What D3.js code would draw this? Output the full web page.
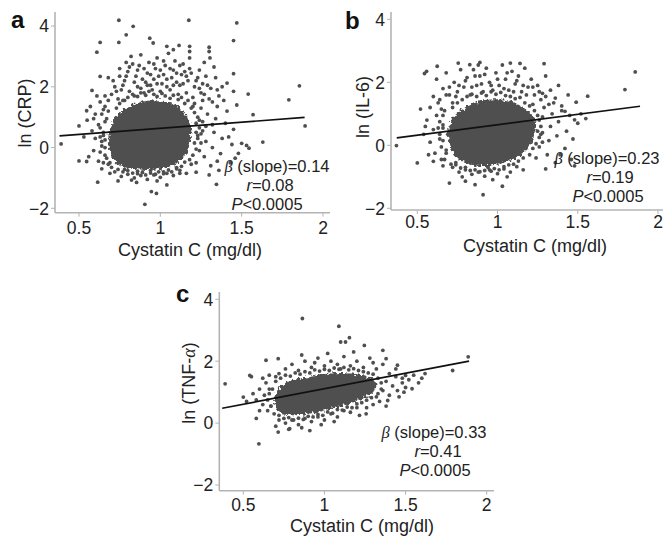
<!DOCTYPE html>
<html lang="en">
<head>
<meta charset="utf-8">
<title>Cystatin C scatter panels</title>
<script src="https://cdn.jsdelivr.net/npm/d3@7"></script>
<style>
  body { margin: 0; background: #fff; }
  svg { font-family: "Liberation Sans", Arial, sans-serif; }
  .axis-line { stroke: #b4b4b4; stroke-width: 1.6; fill: none; }
  .tick-mark { stroke: #b4b4b4; stroke-width: 1; }
  .tick-label { font-size: 17.5px; fill: #222; }
  .ax-title { font-size: 18px; fill: #222; }
  .note { font-size: 16.5px; fill: #222; }
  .panel-tag { font-size: 24px; font-weight: bold; fill: #111; }
</style>
</head>
<body>
<script>

// tick values shared by all three panels
var xTicks = [0.5, 1, 1.5, 2];
var yTicks = [-2, 0, 2, 4];

// ---- panel a : ln(CRP) ----
// dense centre of the cloud (outline)
var coreA = [[0.71,-0.38],[0.75,-0.60],[0.82,-0.70],[0.92,-0.74],[1.02,-0.68],[1.09,-0.55],
  [1.15,-0.28],[1.18,0.10],[1.19,0.60],[1.16,1.05],[1.10,1.40],[1.00,1.55],[0.90,1.52],
  [0.81,1.36],[0.73,1.05],[0.69,0.60],[0.68,0.10]];
var ptsA = [
  [0.745,4.19],[0.833,3.99],[1.175,4.19],[1.47,4.10],[0.79,3.71],[0.63,3.46],[0.745,3.46],[1.45,3.52],
  [0.61,3.14],[0.935,3.60],[0.956,3.44],[1.115,3.36],[1.30,3.30],[1.30,3.16],[1.305,2.95],[1.18,3.16],
  [1.18,3.33],[1.04,3.33],[1.08,3.22],[0.63,2.34],[0.58,1.88],[1.45,2.43],[1.41,2.12],[1.45,1.85],
  [1.54,1.76],[1.57,1.08],[1.79,1.57],[1.855,2.03],[1.89,0.71],[1.63,0.18],[1.53,0.07],[1.545,-0.02],
  [1.50,0.14],[1.48,-0.19],[1.46,-0.35],[1.345,-1.21],[0.615,-1.14],[0.50,-0.44],[0.547,-0.46],
  [0.39,0.12],[0.50,0.71],[0.547,1.21],[0.905,-1.87],[0.976,-1.51],[0.945,-1.45],[1.04,-1.23],
  [0.854,-1.15],[0.823,-1.07],[1.22,-0.81],[1.12,-0.85],
  [0.74,1.6],[0.76,1.9],[0.78,2.2],[0.80,2.5],[0.79,2.8],[0.82,3.0],[0.84,1.7],[0.86,2.0],[0.85,2.35],
  [0.87,2.7],[0.88,3.05],[0.90,1.8],[0.91,2.15],[0.92,2.45],[0.93,2.8],[0.95,1.9],[0.96,2.25],[0.97,2.6],
  [0.98,2.95],[1.0,1.85],[1.01,2.1],[1.02,2.4],[1.03,2.7],[1.05,3.1],[1.06,1.9],[1.07,2.3],[1.08,2.55],
  [1.09,2.85],[1.11,1.75],[1.12,2.05],[1.13,2.4],[1.14,2.75],[1.16,1.8],[1.17,2.2],[1.18,2.6],[1.18,2.95],
  [1.20,1.65],[1.21,2.0],[1.23,2.3],[1.25,1.8],[1.26,2.1],[1.28,2.35],[1.30,1.6],[1.31,1.95],[1.34,2.3],
  [1.36,1.7],[1.38,2.0],[1.33,2.65],[1.27,2.8],[0.72,2.0],[0.70,1.75],[0.68,2.3],[0.75,2.6],[0.83,2.75],
  [0.89,2.25],[0.94,2.05],[0.99,2.35],[1.04,2.0],[1.10,2.15],[1.15,2.5],[0.81,1.85],[0.77,1.55],[1.24,2.55],
  [0.77,2.05],[0.79,2.35],[0.81,2.65],[0.84,2.15],[0.86,2.55],[0.88,1.95],[0.90,2.6],[0.92,2.05],[0.94,2.4],
  [0.96,2.75],[0.98,2.1],[1.00,2.55],[1.02,2.85],[1.04,2.25],[1.06,2.6],[1.08,2.05],[1.10,2.45],[1.12,2.7],
  [1.14,2.1],[1.16,2.35],[1.19,2.45],[1.22,2.2],[1.24,1.95],[1.27,1.75],[1.29,2.05],[0.73,1.85],[0.71,2.2],
  [0.75,2.35],[1.32,1.5],[1.35,1.9],
  [0.55,0.9],[0.57,1.35],[0.58,0.55],[0.59,-0.1],[0.60,0.3],[0.60,1.1],[0.62,0.75],[0.62,-0.45],[0.63,1.5],
  [0.64,0.05],[0.64,-0.7],[0.65,0.5],[0.65,1.25],[0.66,-0.25],[0.67,0.95],[0.68,1.55],[0.68,-0.55],
  [0.53,0.35],[0.56,-0.3],[0.61,1.7],[0.66,1.7],[0.69,-0.85],[0.59,0.95],[0.63,0.35],
  [0.72,-0.8],[0.76,-0.95],[0.80,-0.88],[0.84,-1.0],[0.88,-0.92],[0.92,-1.05],[0.96,-0.9],[1.00,-0.98],
  [1.04,-0.85],[1.08,-0.92],[1.12,-0.75],[1.16,-0.85],[0.78,-0.72],[0.86,-0.78],[0.94,-0.75],[1.02,-0.8],
  [1.10,-0.7],[0.74,-1.1],[0.98,-1.1],
  [1.22,-0.5],[1.24,-0.1],[1.23,0.4],[1.24,0.9],[1.25,1.3],[1.27,-0.3],[1.28,0.2],[1.28,0.7],[1.29,1.1],
  [1.31,-0.6],[1.32,0.0],[1.33,0.5],[1.34,0.95],[1.35,1.35],[1.37,-0.2],[1.38,0.3],[1.40,0.8],[1.41,1.2],
  [1.43,-0.5],[1.44,0.1],[1.45,0.6],[1.47,1.4],[1.26,1.55],[1.30,-0.9],[1.36,-0.75],[1.39,1.55],
  [1.42,0.35],[1.21,1.45],[1.26,0.55],[1.32,0.75],[1.35,-0.45],
  [0.73,1.30],[0.75,1.45],[0.78,1.55],[0.80,1.65],[0.83,1.75],[0.86,1.68],[0.88,1.80],[0.91,1.72],
  [0.93,1.85],[0.96,1.75],[0.98,1.68],[1.01,1.78],[1.03,1.70],[1.06,1.62],[1.08,1.72],[1.11,1.58],
  [1.13,1.65],[1.15,1.45],[1.17,1.55],[1.19,1.30],
  [0.66,1.35],[0.64,1.10],[0.66,0.85],[0.63,0.65],[0.65,0.40],[0.64,0.20],[0.66,0.0],[0.63,-0.15],
  [0.67,-0.35],[0.65,-0.50],[0.70,-0.65],[0.68,1.2],[0.66,0.25],[0.69,-0.50],
  [0.74,-0.72],[0.77,-0.80],[0.80,-0.76],[0.83,-0.84],[0.86,-0.86],[0.89,-0.82],[0.91,-0.90],[0.94,-0.84],
  [0.97,-0.88],[0.99,-0.80],[1.02,-0.86],[1.05,-0.74],[1.07,-0.80],[1.10,-0.66],[1.13,-0.62],[1.15,-0.48],
  [1.18,-0.40],[1.20,-0.25],[1.22,-0.05],[1.21,0.15],[1.23,0.30],[1.22,0.50],[1.24,0.65],[1.22,0.80],
  [1.23,1.00],[1.21,1.15],[1.20,1.35],[1.25,0.15],[1.25,0.45],[1.26,0.85],[1.19,-0.55]];
var fitA = [[0.38,0.385],[1.887,0.99]];

// ---- panel b : ln(IL-6) ----
var coreB = [[0.71,-0.10],[0.75,-0.42],[0.81,-0.58],[0.90,-0.66],[1.00,-0.60],[1.09,-0.47],
  [1.17,-0.18],[1.22,0.20],[1.24,0.68],[1.20,1.05],[1.12,1.32],[1.02,1.46],[0.90,1.42],
  [0.81,1.22],[0.73,0.92],[0.69,0.45]];
var ptsB = [
  [1.858,2.33],[1.794,1.77],[1.562,1.56],[1.49,1.37],[1.42,1.08],[1.48,0.81],[0.52,1.15],[0.50,-0.56],
  [0.37,-0.01],[0.558,2.35],[0.545,2.28],[0.624,2.51],[0.755,2.61],[0.827,2.56],[0.89,2.63],[1.08,2.61],
  [1.29,2.59],[0.91,-1.57],[0.80,-1.14],[0.70,-1.20],[0.97,-1.09],[1.03,-1.30],[1.48,-0.65],[0.60,-0.51],
  [0.62,2.1],[0.66,1.8],[0.68,2.3],[0.70,1.6],[0.73,2.0],[0.75,1.7],[0.77,2.4],[0.79,1.85],[0.81,2.15],
  [0.83,1.6],[0.85,2.4],[0.87,1.9],[0.89,2.2],[0.91,1.7],[0.93,2.45],[0.95,2.0],[0.97,1.75],[0.99,2.3],
  [1.01,1.9],[1.03,2.55],[1.05,2.1],[1.07,1.75],[1.09,2.35],[1.11,1.95],[1.13,2.2],[1.15,1.7],[1.17,2.45],
  [1.19,1.85],[1.21,2.1],[1.23,1.6],[1.25,1.9],[1.28,1.65],[1.30,2.2],[1.33,1.75],[1.36,1.5],[1.38,1.9],
  [0.64,1.45],[0.72,1.35],[1.27,1.45],[1.32,1.3],[1.40,1.25],[1.44,1.6],[0.88,2.55],[1.14,2.6],
  [0.74,1.55],[0.76,1.9],[0.80,2.05],[0.84,1.85],[0.86,2.2],[0.90,1.95],[0.92,2.25],[0.96,1.9],[1.00,2.1],
  [1.04,1.8],[1.06,2.3],[1.10,1.7],[1.12,2.05],[1.16,1.9],[1.18,1.6],[1.22,1.85],[1.26,1.7],[0.70,1.85],
  [0.68,1.6],[1.30,1.55],
  [0.54,0.35],[0.56,0.8],[0.58,0.1],[0.58,1.2],[0.60,0.5],[0.61,-0.25],[0.62,0.95],[0.63,1.35],[0.64,0.2],
  [0.65,-0.45],[0.66,0.65],[0.67,1.1],[0.68,-0.15],[0.69,0.35],[0.57,-0.3],[0.60,1.55],[0.55,0.6],[0.66,-0.65],
  [0.72,-0.7],[0.76,-0.85],[0.80,-0.78],[0.84,-0.92],[0.88,-0.85],[0.92,-0.98],[0.96,-0.82],[1.00,-0.9],
  [1.04,-0.75],[1.08,-0.85],[1.12,-0.68],[1.16,-0.78],[0.78,-1.0],[0.94,-0.7],[1.06,-1.0],[0.86,-1.25],[0.74,-0.55],
  [1.24,-0.4],[1.26,-0.05],[1.27,0.35],[1.28,0.9],[1.29,1.2],[1.31,-0.3],[1.32,0.15],[1.33,0.6],[1.34,1.0],
  [1.36,-0.55],[1.37,0.3],[1.38,0.75],[1.40,1.1],[1.42,-0.1],[1.43,0.45],[1.45,0.95],[1.47,0.2],[1.50,0.7],
  [1.52,1.0],[1.46,-0.45],[1.30,-0.75],[1.39,-0.3],[1.55,0.85],[1.35,1.35],[1.22,1.3],
  [0.72,1.20],[0.75,1.35],[0.78,1.45],[0.81,1.55],[0.84,1.62],[0.87,1.55],[0.90,1.66],[0.93,1.58],
  [0.96,1.70],[0.99,1.62],[1.02,1.68],[1.05,1.58],[1.08,1.55],[1.11,1.48],[1.14,1.52],[1.17,1.35],
  [1.20,1.25],[1.23,1.10],
  [0.66,0.95],[0.64,0.75],[0.66,0.55],[0.64,0.35],[0.66,0.15],[0.65,-0.05],[0.68,-0.25],[0.67,-0.45],
  [0.71,-0.60],[0.63,0.55],[0.65,1.15],
  [0.74,-0.62],[0.77,-0.72],[0.80,-0.70],[0.83,-0.80],[0.86,-0.78],[0.89,-0.84],[0.92,-0.80],[0.95,-0.78],
  [0.98,-0.74],[1.01,-0.78],[1.04,-0.68],[1.07,-0.62],[1.10,-0.60],[1.13,-0.50],[1.16,-0.40],
  [1.20,-0.30],[1.22,-0.10],[1.24,0.05],[1.26,0.25],[1.25,0.45],[1.27,0.60],[1.26,0.80],[1.25,0.95],
  [1.28,0.40],[1.28,0.10]];
var fitB = [[0.372,0.235],[1.888,1.24]];

// ---- panel c : ln(TNF-alpha) ----
var coreC = [[0.69,0.75],[0.71,0.40],[0.76,0.27],[0.85,0.26],[0.95,0.35],[1.05,0.48],[1.15,0.62],
  [1.25,0.82],[1.30,1.00],[1.32,1.26],[1.28,1.48],[1.20,1.58],[1.10,1.62],[1.00,1.58],
  [0.90,1.48],[0.80,1.38],[0.73,1.20]];
var ptsC = [
  [0.864,3.38],[1.089,3.13],[1.154,2.76],[1.10,2.62],[1.13,2.62],[1.246,2.51],[1.36,2.35],[1.886,2.14],
  [1.79,1.70],[0.388,1.27],[0.54,1.54],[0.50,0.84],[0.596,-0.67],[0.715,-0.29],[0.786,-0.18],[0.91,-0.24],
  [1.216,0.25],[1.257,0.30],[1.39,0.73],[1.49,1.00],[1.54,1.11],[1.50,1.54],[1.45,1.87],[1.38,2.08],
  [0.64,2.03],[0.715,2.08],
  [0.72,1.6],[0.76,1.75],[0.80,1.9],[0.84,1.7],[0.88,2.0],[0.92,1.8],[0.96,2.1],[1.00,1.85],[1.04,2.0],
  [1.08,1.9],[1.12,2.15],[1.16,1.85],[1.20,2.0],[1.24,1.8],[1.28,2.1],[1.32,1.75],[1.36,1.9],[1.40,1.6],
  [1.44,1.75],[1.48,1.45],[0.86,2.2],[1.02,2.25],[1.18,2.3],[1.30,1.95],[0.94,1.95],[1.10,1.75],
  [0.56,0.95],[0.58,0.75],[0.60,1.1],[0.62,0.6],[0.63,0.9],[0.64,1.3],[0.65,0.4],[0.66,1.1],[0.67,0.55],
  [0.60,0.4],[0.55,1.5],[0.62,1.45],[0.58,0.15],[0.66,1.55],[0.52,0.7],[0.70,1.5],
  [0.72,0.1],[0.76,0.0],[0.80,0.1],[0.84,-0.05],[0.88,0.15],[0.92,0.05],[0.96,0.2],[1.00,0.1],[1.04,0.3],
  [1.08,0.2],[1.12,0.4],[1.16,0.35],[1.20,0.5],[0.78,-0.2],[0.86,-0.15],[0.98,-0.05],[1.06,0.05],[0.70,-0.1],
  [1.34,0.7],[1.36,1.05],[1.38,1.35],[1.40,0.9],[1.42,1.2],[1.44,1.5],[1.46,0.85],[1.48,1.3],[1.50,1.15],
  [1.52,1.4],[1.55,1.55],[1.58,1.3],[1.60,1.45],[1.62,1.6],[1.38,0.55],[1.45,1.05],[1.30,0.6],[1.26,0.5],
  [0.70,1.35],[0.73,1.45],[0.76,1.55],[0.79,1.52],[0.82,1.62],[0.85,1.58],[0.88,1.66],[0.91,1.62],
  [0.94,1.72],[0.97,1.68],[1.00,1.74],[1.03,1.70],[1.06,1.78],[1.09,1.74],[1.12,1.80],[1.15,1.72],
  [1.18,1.76],[1.21,1.70],[1.24,1.66],[1.27,1.62],[1.30,1.58],[1.33,1.45],
  [0.66,0.95],[0.65,0.75],[0.67,0.55],[0.68,1.10],[0.69,0.30],
  [0.72,0.25],[0.75,0.15],[0.78,0.18],[0.81,0.10],[0.84,0.16],[0.87,0.12],[0.90,0.22],[0.93,0.20],
  [0.96,0.28],[0.99,0.25],[1.02,0.36],[1.05,0.32],[1.08,0.44],[1.11,0.42],[1.14,0.52],[1.17,0.50],
  [1.20,0.62],[1.23,0.66],[1.26,0.74],[1.29,0.82],
  [1.33,0.95],[1.35,1.10],[1.35,1.30],[1.32,0.85]];
var fitC = [[0.37,0.48],[1.891,2.0]];

var svg = d3.select("body").append("svg")
    .attr("width", 663)
    .attr("height", 536);

// roughen the edge of the dense centres so they read as a crowd of dots
var filt = svg.append("defs").append("filter")
    .attr("id", "rough")
    .attr("x", "-10%").attr("y", "-10%")
    .attr("width", "120%").attr("height", "120%");
filt.append("feTurbulence")
    .attr("type", "fractalNoise")
    .attr("baseFrequency", 0.35)
    .attr("numOctaves", 2)
    .attr("seed", 3)
    .attr("result", "noise");
filt.append("feDisplacementMap")
    .attr("in", "SourceGraphic")
    .attr("in2", "noise")
    .attr("scale", 7)
    .attr("xChannelSelector", "R")
    .attr("yChannelSelector", "G");

function fmt(v) {
    return v < 0 ? "\u2212" + Math.abs(v) : String(v);
}

function drawPanel(p) {
    var x = d3.scaleLinear().domain([0.5, 2]).range([p.x05, p.x2]);
    var y = d3.scaleLinear().domain([-2, 4]).range([p.ym2, p.y4]);
    var g = svg.append("g");

    // axes lines
    g.append("line").attr("class", "axis-line")
        .attr("x1", p.axX).attr("x2", p.axX)
        .attr("y1", p.axTop).attr("y2", p.axY);
    g.append("line").attr("class", "axis-line")
        .attr("x1", p.axX).attr("x2", p.axRight)
        .attr("y1", p.axY).attr("y2", p.axY);

    g.selectAll(".xt").data(xTicks).enter().append("line")
        .attr("class", "tick-mark")
        .attr("x1", function(d) { return x(d); }).attr("x2", function(d) { return x(d); })
        .attr("y1", p.axY).attr("y2", p.axY + 4);
    g.selectAll(".xl").data(xTicks).enter().append("text")
        .attr("class", "tick-label")
        .attr("text-anchor", "middle")
        .attr("x", function(d) { return x(d); })
        .attr("y", p.xLabY)
        .text(fmt);

    g.selectAll(".yt").data(yTicks).enter().append("line")
        .attr("class", "tick-mark")
        .attr("x1", p.axX - 4).attr("x2", p.axX)
        .attr("y1", function(d) { return y(d); }).attr("y2", function(d) { return y(d); });
    g.selectAll(".yl").data(yTicks).enter().append("text")
        .attr("class", "tick-label")
        .attr("text-anchor", "end")
        .attr("x", p.axX - 6)
        .attr("y", function(d) { return y(d); })
        .attr("dy", "0.36em")
        .text(fmt);

    // dense centre + individual points
    g.append("path")
        .datum(p.core)
        .attr("d", d3.line()
            .x(function(d) { return x(d[0]); })
            .y(function(d) { return y(d[1]); })
            .curve(d3.curveCardinalClosed.tension(0.3)))
        .attr("fill", "#4f4f4f")
        .attr("filter", "url(#rough)");

    g.selectAll(".pt").data(p.pts).enter().append("circle")
        .attr("cx", function(d) { return x(d[0]); })
        .attr("cy", function(d) { return y(d[1]); })
        .attr("r", 1.9)
        .attr("fill", "#4f4f4f");

    // fit line
    g.append("line")
        .attr("x1", x(p.fit[0][0])).attr("y1", y(p.fit[0][1]))
        .attr("x2", x(p.fit[1][0])).attr("y2", y(p.fit[1][1]))
        .attr("stroke", "#111").attr("stroke-width", 1.7);

    // titles
    g.append("text").attr("class", "panel-tag")
        .attr("x", p.tagX).attr("y", p.tagY).text(p.tag);

    g.append("text").attr("class", "ax-title")
        .attr("text-anchor", "middle")
        .attr("x", p.xtX).attr("y", p.xtY)
        .text("Cystatin C (mg/dl)");

    var yt = g.append("text").attr("class", "ax-title")
        .attr("text-anchor", "middle")
        .attr("transform", "translate(" + p.ytX + "," + p.ytY + ") rotate(-90)");
    yt.append("tspan").text(p.yName[0]);
    if (p.yName[1]) {
        yt.append("tspan").attr("font-family", "'Liberation Serif', serif")
            .attr("font-style", "italic").text(p.yName[1]);
        yt.append("tspan").text(p.yName[2]);
    }

    // stats note, three lines
    var n1 = g.append("text").attr("class", "note")
        .attr("text-anchor", "middle").attr("x", p.n1x).attr("y", p.nY);
    n1.append("tspan").attr("font-family", "'Liberation Serif', serif")
        .attr("font-style", "italic").text("\u03b2");
    n1.append("tspan").text(" (slope)=" + p.stats[0]);

    var n2 = g.append("text").attr("class", "note")
        .attr("text-anchor", "middle").attr("x", p.n2x).attr("y", p.nY + 19);
    n2.append("tspan").attr("font-style", "italic").text("r");
    n2.append("tspan").text("=" + p.stats[1]);

    var n3 = g.append("text").attr("class", "note")
        .attr("text-anchor", "middle").attr("x", p.n3x).attr("y", p.nY + 38);
    n3.append("tspan").attr("font-style", "italic").text("P");
    n3.append("tspan").text("<" + p.stats[2]);
}

drawPanel({
    tag: "a", tagX: 11, tagY: 28,
    x05: 79, x2: 323, ym2: 208.3, y4: 26,
    axX: 55, axY: 212.7, axTop: 12, axRight: 330, xLabY: 234,
    xtX: 190, xtY: 256, ytX: 31, ytY: 113,
    yName: ["ln (CRP)"],
    core: coreA, pts: ptsA, fit: fitA,
    stats: ["0.14", "0.08", "0.0005"],
    n1x: 277, n2x: 270, n3x: 267, nY: 172
});

drawPanel({
    tag: "b", tagX: 345, tagY: 29,
    x05: 417.3, x2: 658, ym2: 208.3, y4: 19.3,
    axX: 391, axY: 210, axTop: 12, axRight: 663, xLabY: 228,
    xtX: 535, xtY: 252, ytX: 369, ytY: 107,
    yName: ["ln (IL-6)"],
    core: coreB, pts: ptsB, fit: fitB,
    stats: ["0.23", "0.19", "0.0005"],
    n1x: 607, n2x: 610, n3x: 608, nY: 164
});

drawPanel({
    tag: "c", tagX: 176, tagY: 302,
    x05: 243.3, x2: 486.7, ym2: 485, y4: 299.3,
    axX: 219.3, axY: 490.7, axTop: 292, axRight: 494, xLabY: 511,
    xtX: 362, xtY: 532, ytX: 195, ytY: 383,
    yName: ["ln (TNF-", "\u03b1", ")"],
    core: coreC, pts: ptsC, fit: fitC,
    stats: ["0.33", "0.41", "0.0005"],
    n1x: 434, n2x: 438, n3x: 435, nY: 438
});

</script>
</body>
</html>
